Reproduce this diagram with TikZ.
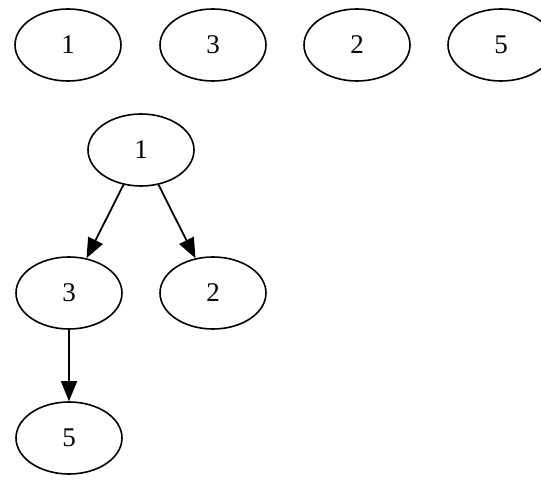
\documentclass[tikz,border=0pt]{standalone}
\usepackage{fontspec}
\setmainfont{Liberation Serif}
\usetikzlibrary{shapes.geometric,arrows.meta}
\begin{document}
\begin{tikzpicture}[x=1pt,y=-1pt,
  gnode/.style={draw,ellipse,line width=1.6pt,minimum width=106pt,minimum height=72pt,inner sep=0pt,font=\fontsize{27}{30}\selectfont},
  gedge/.style={line width=1.8pt,-{Triangle[length=20pt,width=16pt]}}]
\useasboundingbox (0,0) rectangle (541,486);
\node[gnode] (a1) at (68,45) {1};
\node[gnode] (a3) at (213,45) {3};
\node[gnode] (a2) at (357,45) {2};
\node[gnode] (a5) at (501,45) {5};
\node[gnode] (t1) at (141,150) {1};
\node[gnode] (t3) at (69,293) {3};
\node[gnode] (t2) at (213,293) {2};
\node[gnode] (t5) at (69,438) {5};
\draw[gedge] (t1) -- (t3);
\draw[gedge] (t1) -- (t2);
\draw[gedge] (t3) -- (t5);
\end{tikzpicture}
\end{document}
